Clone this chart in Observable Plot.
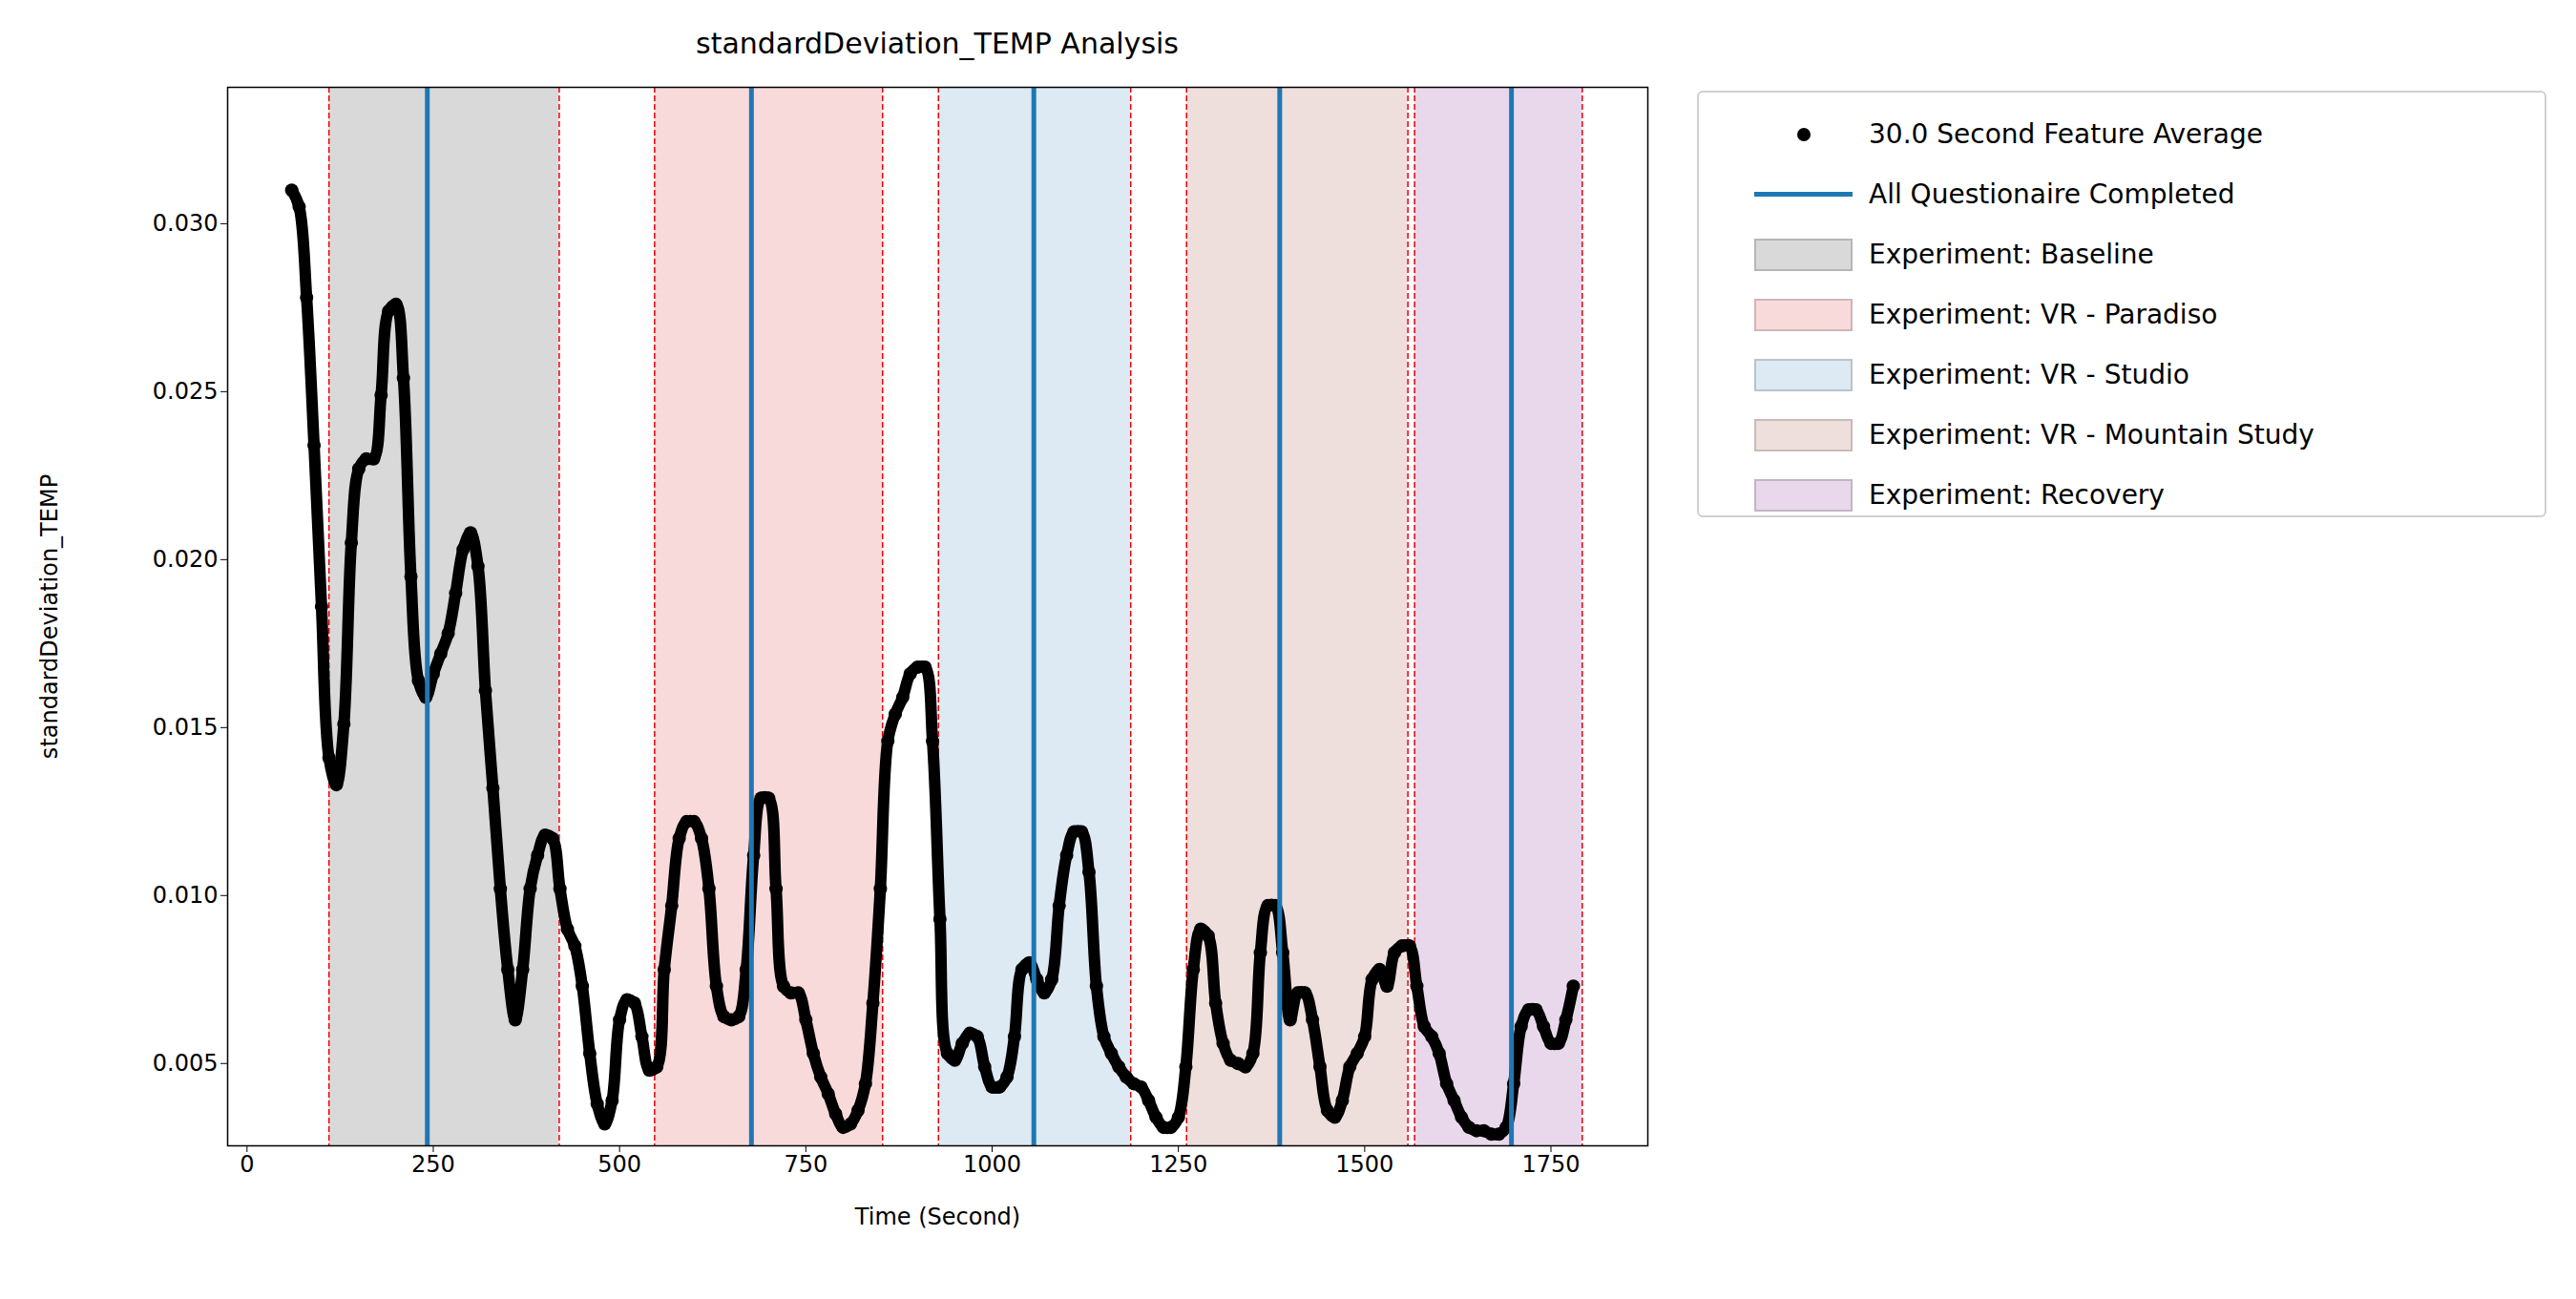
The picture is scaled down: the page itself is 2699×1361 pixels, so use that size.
<!DOCTYPE html>
<html>
<head>
<meta charset="utf-8">
<script src="https://cdn.jsdelivr.net/npm/d3@7"></script>
<script src="https://cdn.jsdelivr.net/npm/@observablehq/plot@0.6"></script>
<style>
  body { margin: 0; background: #fff; font-family: "DejaVu Sans", sans-serif; }
  #wrap { position: relative; width: 2699px; height: 1361px; background: #fff; }
  #chart { position: absolute; left: 0; top: 0; }
  #title { position: absolute; left: 238px; width: 1488px; top: 28px; text-align: center; font-size: 30px; z-index: 2; }
  #legend { position: absolute; left: 1778px; top: 95px; width: 890px; height: 447px; box-sizing: border-box;
    border: 2px solid #d0d0d0; border-radius: 6px; padding: 12px 0 12px 58px; font-size: 28px; z-index: 2; background: #fff; }
  .row { display: flex; align-items: center; height: 63px; }
  .sw { width: 103px; height: 30px; margin-right: 17px; display: flex; align-items: center; justify-content: center; box-sizing: border-box; }
</style>
</head>
<body>
<div id="wrap">
  <div id="chart"></div>
  <div id="title">standardDeviation_TEMP Analysis</div>
  <div id="legend"></div>
</div>
<script>
// time (s) and feature values
const times = d3.range(60, 1790, 10);
const values = [
  0.0310, 0.0305, 0.0278, 0.0234, 0.0186, 0.0141, 0.0133, 0.0151, 0.0205, 0.0227,
  0.0230, 0.0230, 0.0249, 0.0274, 0.0276, 0.0254, 0.0195, 0.0164, 0.0159, 0.0166,
  0.0172, 0.0178, 0.0190, 0.0203, 0.0208, 0.0198, 0.0161, 0.0132, 0.0102, 0.0078,
  0.0063, 0.0078, 0.0102, 0.0112, 0.0118, 0.0117, 0.0102, 0.0090, 0.0085, 0.0073,
  0.0053, 0.0038, 0.0032, 0.0039, 0.0063, 0.0069, 0.0068, 0.0058, 0.0048, 0.0049,
  0.0078, 0.0097, 0.0117, 0.0122, 0.0122, 0.0117, 0.0102, 0.0073, 0.0064, 0.0063,
  0.0064, 0.0078, 0.0112, 0.0129, 0.0129, 0.0102, 0.0073, 0.0071, 0.0071, 0.0063,
  0.0053, 0.0046, 0.0041, 0.0035, 0.0031, 0.0032, 0.0036, 0.0044, 0.0068, 0.0102,
  0.0146, 0.0154, 0.0159, 0.0166, 0.0168, 0.0168, 0.0146, 0.0093, 0.0053, 0.0051,
  0.0056, 0.0059, 0.0058, 0.0049, 0.0043, 0.0043, 0.0046, 0.0058, 0.0078, 0.0080,
  0.0075, 0.0071, 0.0075, 0.0097, 0.0112, 0.0119, 0.0119, 0.0107, 0.0073, 0.0058,
  0.0053, 0.0049, 0.0046, 0.0044, 0.0043, 0.0039, 0.0034, 0.0031, 0.0031, 0.0034,
  0.0049, 0.0078, 0.0090, 0.0088, 0.0068, 0.0056, 0.0051, 0.0050, 0.0049, 0.0053,
  0.0083, 0.0097, 0.0097, 0.0083, 0.0063, 0.0071, 0.0071, 0.0063, 0.0049, 0.0036,
  0.0034, 0.0039, 0.0049, 0.0053, 0.0058, 0.0075, 0.0078, 0.0073, 0.0083, 0.0085,
  0.0085, 0.0073, 0.0061, 0.0058, 0.0053, 0.0044, 0.0039, 0.0034, 0.0031, 0.0030,
  0.0030, 0.0029, 0.0029, 0.0031, 0.0044, 0.0061, 0.0066, 0.0066, 0.0061, 0.0056,
  0.0056, 0.0063, 0.0073
];
const phaseNames = ['Experiment: Baseline', 'Experiment: VR - Paradiso', 'Experiment: VR - Studio',
  'Experiment: VR - Mountain Study', 'Experiment: Recovery'];
const phaseStart = [110, 547, 928, 1261, 1567];
const phaseEnd = [419, 853, 1186, 1558, 1792];
const phaseColors = ['#d9d9d9', '#f8dadb', '#dde9f3', '#efdfdc', '#e9d8ec'];
const questionnaireTimes = [242, 677, 1056, 1386, 1697];

const points = times.map((t, i) => ({ t, v: values[i] })).filter(d => d.v != null);
const phases = phaseNames.map((name, i) => ({ name, x1: phaseStart[i], x2: phaseEnd[i], fill: phaseColors[i] }));
const edges = phases.flatMap(p => [p.x1, p.x2]);

const chart = Plot.plot({
  width: 1740,
  height: 1300,
  marginLeft: 238,
  marginRight: 14,
  marginTop: 91,
  marginBottom: 100,
  style: { fontFamily: '"DejaVu Sans", sans-serif', fontSize: '24px', color: '#000', background: '#fff' },
  x: { domain: [-26, 1880], ticks: d3.range(0, 1751, 250), tickFormat: d3.format('d'), tickSize: 7,
       label: 'Time (Second)', labelArrow: 'none', labelAnchor: 'center', labelOffset: 82 },
  y: { domain: [0.00255, 0.03406], ticks: d3.range(0.005, 0.0301, 0.005), tickFormat: d3.format('.3f'), tickSize: 7,
       label: 'standardDeviation_TEMP', labelArrow: 'none', labelAnchor: 'center', labelOffset: 196 },
  marks: [
    Plot.rectX(phases, { x1: 'x1', x2: 'x2', y1: 0.00255, y2: 0.03406, fill: 'fill' }),
    Plot.ruleX(edges, { stroke: '#e8000b', strokeWidth: 1.5, strokeDasharray: '6,3' }),
    Plot.line(points, { x: 't', y: 'v', stroke: '#000', strokeWidth: 12, strokeLinecap: 'round', strokeLinejoin: 'round', curve: 'catmull-rom' }),
    Plot.dot(points, { x: 't', y: 'v', r: 7, fill: '#000', stroke: 'none' }),
    Plot.ruleX(questionnaireTimes, { stroke: '#1f77b4', strokeWidth: 5 }),
    Plot.frame({ stroke: '#000', strokeWidth: 1.5 })
  ]
});
document.getElementById('chart').appendChild(chart);

// legend
const legend = document.getElementById('legend');
const rows = [
  { label: '30.0 Second Feature Average', html: '<div style="width:14px;height:14px;border-radius:50%;background:#000"></div>' },
  { label: 'All Questionaire Completed', html: '<div style="width:103px;height:5px;background:#1f77b4"></div>' },
  ...phases.map(p => ({ label: p.name, html: `<div style="width:103px;height:30px;background:${p.fill};border:2px solid ${d3.color(p.fill).darker(0.5)}"></div>` }))
];
rows.forEach(r => {
  const row = document.createElement('div');
  row.className = 'row';
  row.innerHTML = `<div class="sw">${r.html}</div><span>${r.label}</span>`;
  legend.appendChild(row);
});
</script>
</body>
</html>
